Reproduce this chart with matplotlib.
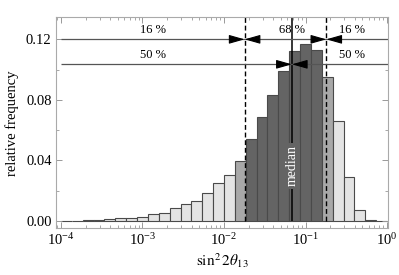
import matplotlib
matplotlib.use("Agg")
import matplotlib.pyplot as plt
import numpy as np
from matplotlib.ticker import FixedLocator, LogLocator, NullFormatter

plt.rcParams["font.family"] = ["Liberation Serif", "DejaVu Serif"]
plt.rcParams["mathtext.fontset"] = "stix"

# histogram: 30 log-spaced bins between 1e-4 and 1
bin_edges_log = np.linspace(-4, 0, 31)
freq = [0.0002, 0.0002, 0.0006, 0.0008, 0.0012, 0.0017, 0.0020, 0.0026,
        0.0047, 0.0054, 0.0084, 0.0112, 0.0132, 0.0183, 0.0251, 0.0304,
        0.0394, 0.0541, 0.0685, 0.0830, 0.0990, 0.1120, 0.1167, 0.1132,
        0.0949, 0.0660, 0.0293, 0.0070, 0.0008, 0.0002]

# quantiles
q16 = 0.0179
q50 = 0.068
q84 = 0.180

# level of the two annotation lines
y_outer = 0.120
y_inner = 0.1035

light, mid, dark = "#e4e4e4", "#a8a8a8", "#646464"

edges = 10 ** bin_edges_log
lefts, rights = edges[:-1], edges[1:]
colors = []
for lo, hi in zip(lefts, rights):
    if (lo <= q16 < hi) or (lo <= q84 < hi):
        colors.append(mid)
    elif q16 <= lo and hi <= q84:
        colors.append(dark)
    else:
        colors.append(light)

fig = plt.figure(figsize=(3.99, 2.75), dpi=100)
ax = fig.add_axes([0.1396, 0.1698, 0.8336, 0.767])

ax.bar(lefts, freq, width=rights - lefts, align="edge", color=colors,
       edgecolor="#4a4a4a", linewidth=0.8)

ax.set_xscale("log")
xlo, xhi = 10 ** -4.065, 10 ** 0.016
ylo, yhi = -0.0048, 0.1345
ax.set_xlim(xlo, xhi)
ax.set_ylim(ylo, yhi)

# vertical quantile lines
ax.vlines([q16, q84], 0, yhi, colors="black", linestyles=(0, (3.5, 2)), linewidth=1.0)
ax.vlines(q50, 0, yhi, colors="black", linewidth=1.1)

# horizontal range lines
ax.hlines([y_outer, y_inner], 1e-4, xhi, colors="#555555", linewidth=0.9)

def arrow_pair(x, y):
    for dx in (-10, 10):
        ax.annotate("", xy=(x, y), xytext=(dx, 0), textcoords="offset points",
                    arrowprops=dict(arrowstyle="-|>,head_length=0.95,head_width=0.27",
                                    color="black", shrinkA=0, shrinkB=0, lw=0.8))

arrow_pair(q16, y_outer)
arrow_pair(q84, y_outer)
arrow_pair(q50, y_inner)

txt_kw = dict(ha="center", va="bottom", fontsize=9)
ax.text(0.00133, y_outer + 0.002, "16 %", **txt_kw)
ax.text(q50, y_outer + 0.002, "68 %", **txt_kw)
ax.text(0.37, y_outer + 0.002, "16 %", **txt_kw)
ax.text(0.00133, y_inner + 0.002, "50 %", **txt_kw)
ax.text(0.37, y_inner + 0.002, "50 %", **txt_kw)

ax.text(q50, 0.0364, "median", rotation=90, ha="center", va="center",
        fontsize=10, color="white",
        bbox=dict(facecolor=dark, edgecolor="none", pad=1.5))

# ticks and frame
ax.yaxis.set_major_locator(FixedLocator([0.0, 0.04, 0.08, 0.12]))
ax.yaxis.set_minor_locator(FixedLocator(np.arange(0.0, 0.131, 0.02)))
ax.set_yticklabels(["0.00", "0.04", "0.08", "0.12"])
ax.xaxis.set_major_locator(LogLocator(base=10, numticks=10))
ax.xaxis.set_minor_locator(LogLocator(base=10, subs=np.arange(2, 10), numticks=10))
ax.xaxis.set_minor_formatter(NullFormatter())
ax.tick_params(which="both", direction="in", top=True, right=True,
               color="#999999", labelsize=10.5, pad=3)
ax.tick_params(which="major", length=4, width=0.7)
ax.tick_params(which="minor", length=2, width=0.6)
for sp in ax.spines.values():
    sp.set_color("#aaaaaa")
    sp.set_linewidth(0.8)

ax.set_xlabel(r"$\sin^2 2\theta_{13}$", fontsize=11, labelpad=2)
ax.set_ylabel("relative frequency", fontsize=10.5, labelpad=5)

fig.savefig("out.png", dpi=100)
